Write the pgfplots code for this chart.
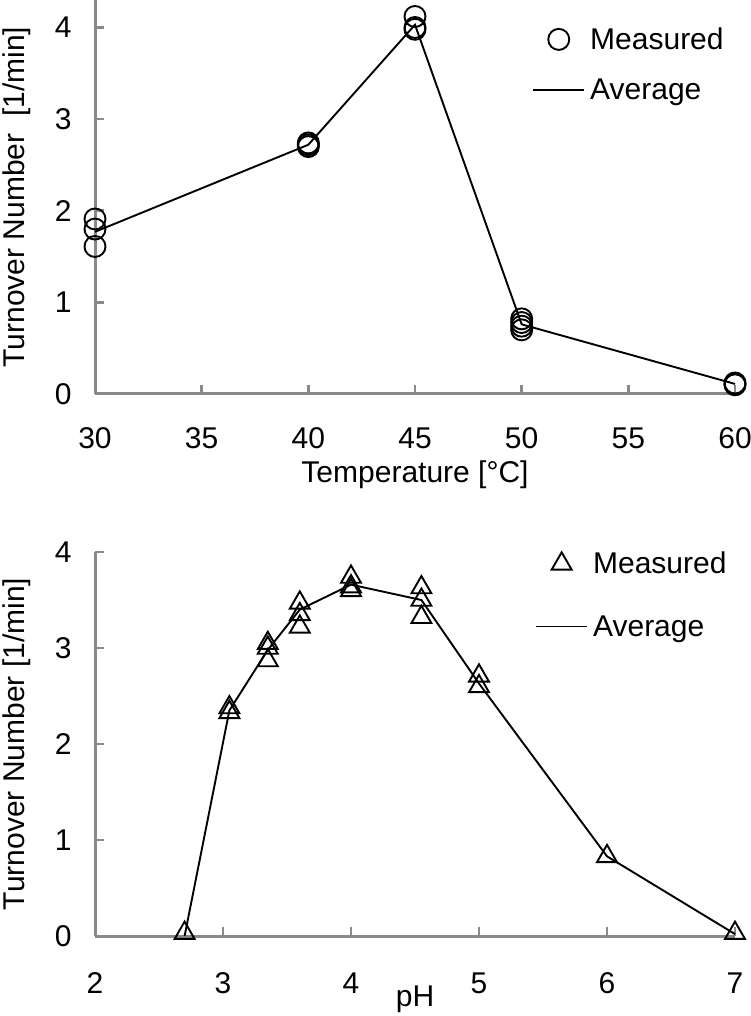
\documentclass[border=0pt]{standalone}
\usepackage{fontspec}
\setmainfont{Liberation Sans}
\usepackage{pgfplots}
\pgfplotsset{compat=1.18}
\definecolor{axgray}{HTML}{898989}
\pgfplotsset{
  myaxis/.style={
    scale only axis, width=640pt,
    axis lines=left, axis line style={-, draw=axgray, line width=3pt},
    every tick/.style={draw=axgray, line width=2.5pt},
    major tick length=9pt, tick align=inside,
    xtick pos=bottom, ytick pos=left,
    ticklabel style={font=\fontsize{30}{36}\selectfont},
    /pgf/number format/assume math mode=true,
    yticklabel style={xshift=-20pt},
    every axis y label/.style={at={(axis description cs:-0.122,0.5)}, rotate=90, anchor=center, font=\fontsize{30}{36}\selectfont},
    legend style={draw=none, fill=none, font=\fontsize{30}{36}\selectfont,
      anchor=north west, inner sep=0pt,
      nodes={inner sep=0pt}, column sep=5pt},
    legend cell align=left,
    legend image code/.code={\draw[mark repeat=2,mark phase=2,#1] plot coordinates {(0pt,0pt)(25.5pt,0pt)(51pt,0pt)};},
    clip=false,
  }
}
\begin{document}
\begin{tikzpicture}
\path[use as bounding box] (0,0) rectangle (750pt,1016pt);
% Top: temperature
\begin{axis}[myaxis,
  at={(95pt,622pt)}, anchor=south west, height=394pt,
  xmin=30, xmax=60, ymin=0, ymax=4.3,
  xtick={30,35,...,60}, ytick={0,1,2,3,4},
  xticklabel style={yshift=-30pt},
  xlabel={Temperature [°C]},
  ylabel={Turnover Number\ \ [1/min]},
  every axis x label/.style={at={(axis description cs:0.5,-0.205)}, anchor=center, font=\fontsize{30}{36}\selectfont},
  legend style={at={(0.683,0.93)}, row sep=28pt},
]
\addplot[only marks, mark=o, mark size=10.5pt, black, line width=1.9pt] coordinates {
  (30,1.91) (30,1.80) (30,1.61)
  (40,2.70) (40,2.72) (40,2.74)
  (45,4.12) (45,4.00) (45,3.98)
  (50,0.82) (50,0.78) (50,0.74) (50,0.70)
  (60,0.10) (60,0.12) (60,0.11)
};
\addlegendentry{Measured}
\addplot[black, line width=1.9pt, no marks] coordinates {
  (30,1.77) (40,2.72) (45,4.03) (50,0.76) (60,0.11)
};
\addlegendentry{Average}
\end{axis}
% Bottom: pH
\begin{axis}[myaxis,
  at={(95pt,80pt)}, anchor=south west, height=384pt,
  xmin=2, xmax=7, ymin=0, ymax=4,
  xtick={2,3,...,7}, ytick={0,1,2,3,4},
  xticklabel style={yshift=-33pt},
  xlabel={pH},
  ylabel={Turnover Number [1/min]},
  every axis x label/.style={at={(axis description cs:0.5,-0.164)}, anchor=center, font=\fontsize{30}{36}\selectfont},
  legend style={at={(0.6875,1.0)}, row sep=40pt},
]
\addplot[only marks, mark=triangle, mark size=11.5pt, black, line width=1.9pt] coordinates {
  (2.7,0.03)
  (3.05,2.38) (3.05,2.33)
  (3.35,3.05) (3.35,3.00) (3.35,2.87)
  (3.6,3.47) (3.6,3.35) (3.6,3.22)
  (4.0,3.74) (4.0,3.64) (4.0,3.60)
  (4.55,3.63) (4.55,3.50) (4.55,3.32)
  (5.0,2.71) (5.0,2.60)
  (6.0,0.83)
  (7.0,0.03)
};
\addlegendentry{Measured}
\addplot[black, line width=1.9pt, no marks] coordinates {
  (2.7,0.0) (3.05,2.35) (3.35,2.98) (3.6,3.40) (4.0,3.66) (4.55,3.50) (5.0,2.63) (6.0,0.83) (7.0,0.02)
};
\addlegendentry{Average}
\end{axis}
\end{tikzpicture}
\end{document}
